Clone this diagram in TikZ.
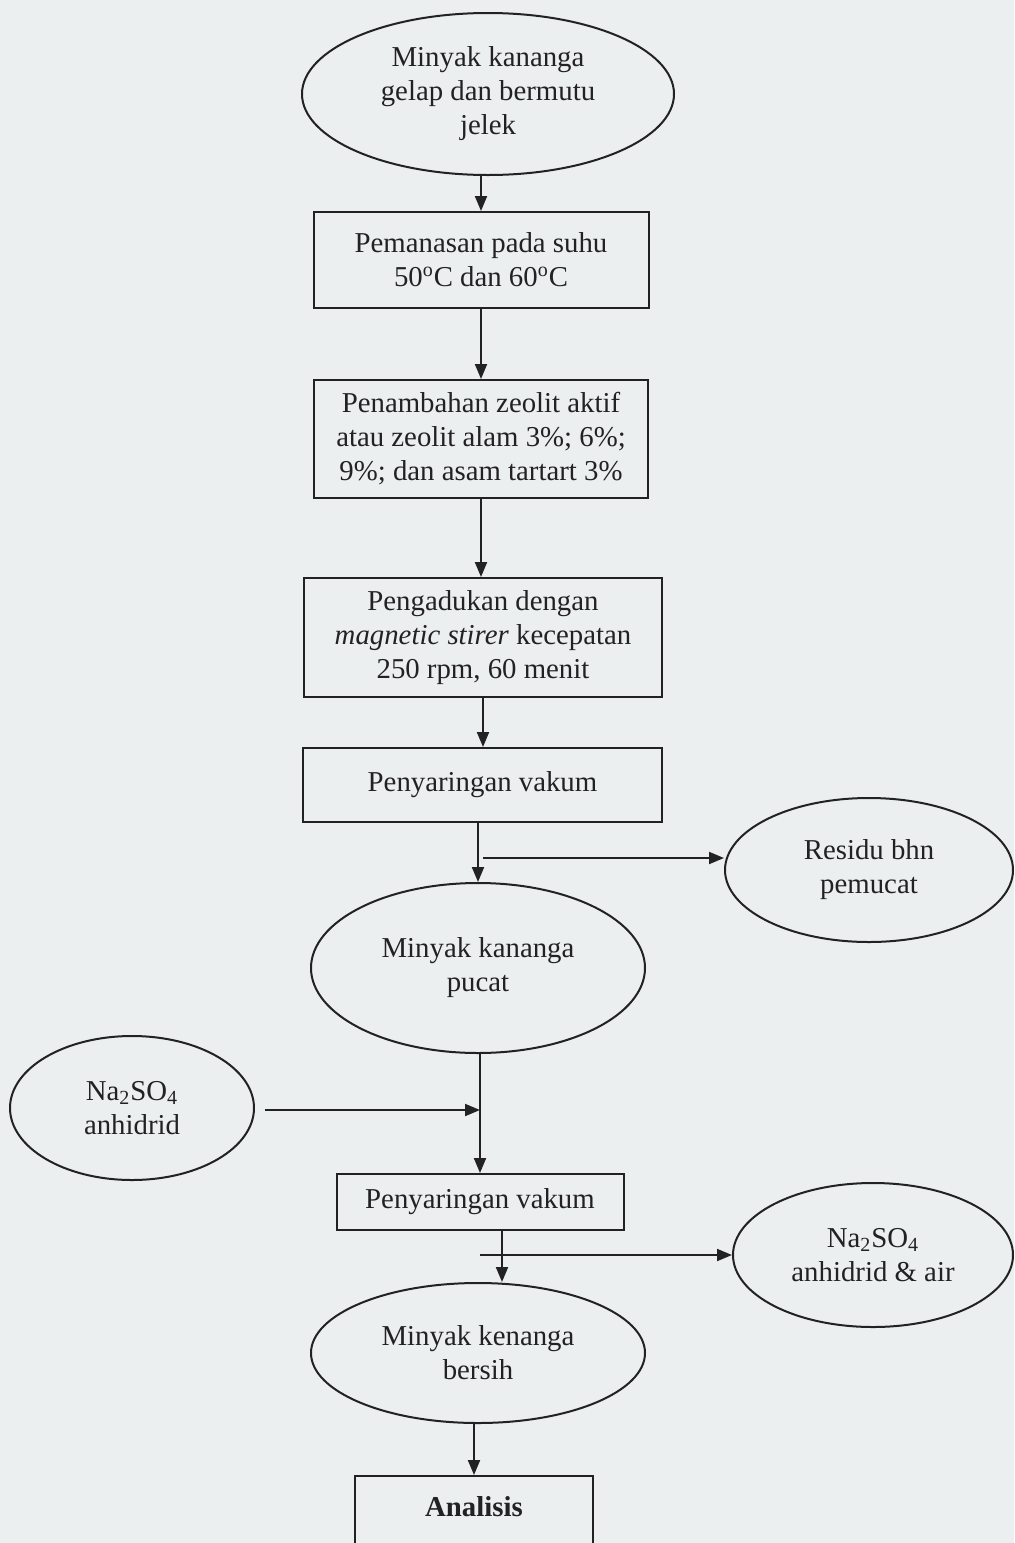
\documentclass[tikz,border=0pt]{standalone}
\usepackage{fontspec}
\setmainfont{Liberation Serif}
\usetikzlibrary{shapes.geometric,arrows.meta}
\definecolor{paper}{RGB}{236,239,239}
\definecolor{ink}{RGB}{34,34,34}
\tikzset{
  every node/.style={font=\fontsize{14.4pt}{17pt}\selectfont, text=ink, align=center},
  oval/.style={draw=ink, line width=1pt, ellipse, inner sep=0pt},
  procbox/.style={draw=ink, line width=1pt, rectangle, inner sep=0pt},
  arr/.style={draw=ink, line width=1pt, -{Triangle[length=7.5pt,width=6pt]}}
}
\begin{document}
\begin{tikzpicture}[x=0.5pt,y=-0.5pt]
\fill[paper] (0,0) rectangle (1014,1543);
\useasboundingbox (0,0) rectangle (1014,1543);

% main column
\node[oval, minimum width=186pt, minimum height=81pt] (e1) at (488,94) {Minyak kananga\\gelap dan bermutu\\jelek};
\node[procbox, minimum width=167.5pt, minimum height=48pt] (b1) at (481,260) {Pemanasan pada suhu\\50\textsuperscript{o}C dan 60\textsuperscript{o}C};
\node[procbox, minimum width=167pt, minimum height=59pt] (b2) at (481,439) {Penambahan zeolit aktif\\atau zeolit alam 3\%; 6\%;\\9\%; dan asam tartart 3\%};
\node[procbox, minimum width=179pt, minimum height=59.5pt] (b3) at (483,637.5) {Pengadukan dengan\\\textit{magnetic stirer} kecepatan\\250 rpm, 60 menit};
\node[procbox, minimum width=179.5pt, minimum height=37pt] (b4) at (482.5,785) {Penyaringan vakum};
\node[oval, minimum width=167pt, minimum height=85pt] (e2) at (478,968) {Minyak kananga\\pucat};
\node[procbox, minimum width=143.5pt, minimum height=28pt] (b5) at (480,1202) {Penyaringan vakum};
\node[oval, minimum width=167pt, minimum height=70pt] (e3) at (478,1353) {Minyak kenanga\\bersih};
\node[procbox, minimum width=119pt, minimum height=50pt, anchor=north] (b6) at (474,1475) {};
\node (t6) at (474,1507) {\textbf{Analisis}};

% side ovals
\node[oval, minimum width=144pt, minimum height=72pt] (eres) at (869,870) {Residu bhn\\pemucat};
\node[oval, minimum width=122pt, minimum height=72pt] (ena) at (132,1108) {Na\textsubscript{2}SO\textsubscript{4}\\anhidrid};
\node[oval, minimum width=140pt, minimum height=72pt] (enaair) at (873,1255) {Na\textsubscript{2}SO\textsubscript{4}\\anhidrid \& air};

% helper coordinates
\coordinate (c1) at (483,858);
\coordinate (c2) at (265,1110);
\coordinate (c3) at (502,1230);
\coordinate (c4) at (480,1255);

% connectors
\draw[arr] (e1.south -| b1.north) -- (b1.north);
\draw[arr] (b1.south) -- (b1.south |- b2.north);
\draw[arr] (b2.south) -- (b2.south |- b3.north);
\draw[arr] (b3.south) -- (b3.south |- b4.north);
\draw[arr] (b4.south -| e2.north) -- (e2.north);
\draw[arr] (c1) -- (c1 -| eres.west);
\draw[arr] (e2.south -| b5.north) -- (b5.north);
\draw[arr] (c2) -- (c2 -| b5.north);
\draw[arr] (c3) -- (c3 |- e3.north);
\draw[arr] (c4) -- (c4 -| enaair.west);
\draw[arr] (e3.south -| t6.north) -- (b6.north);
\end{tikzpicture}
\end{document}
